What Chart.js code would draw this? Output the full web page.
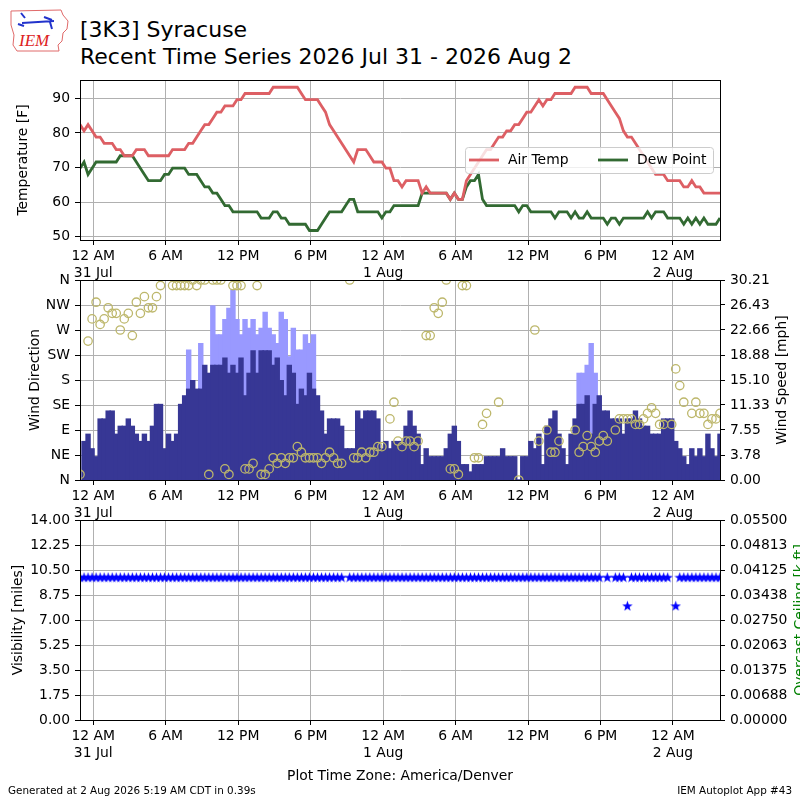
<!DOCTYPE html>
<html>
<head>
<meta charset="utf-8">
<script src="https://cdn.jsdelivr.net/npm/chart.js@4.4.0/dist/chart.umd.min.js"></script>
<style>
  body { margin:0; background:#fff; }
  #wrap { position:relative; width:800px; height:800px; overflow:hidden; background:#fff; font-family:'DejaVu Sans', sans-serif; color:#000; }
  canvas { position:absolute; left:0; }
  .txt { position:absolute; white-space:nowrap; line-height:20px; }
  .big { font-size:22px; line-height:24px; }
  .rot { position:absolute; white-space:nowrap; font-size:13.9px; line-height:16px; transform:translate(-50%,-50%) rotate(-90deg); }
</style>
</head>
<body>
<div id="wrap">
  <svg style="position:absolute;left:4px;top:3px" width="72" height="52" viewBox="0 0 72 52">
    <path d="M7 8 L57 7 L59 12 L64 18 L63 26 L59 30 L58 38 L54 42 L55 48 L13 48 L9 42 L10 32 L7 22 Z" fill="none" stroke="#e06a6a" stroke-width="1"/>
    <path d="M17 10 L21 15 M18 20 L50 18 M40 14 L48 17 M46 19 L48 26 M14 21 L20 23" stroke="#2233cc" stroke-width="2" fill="none"/>
    <text x="15" y="43" font-family="Liberation Serif" font-style="italic" font-size="17" fill="#dd2222">IEM</text>
  </svg>
  <div class="txt big" style="left:80px;top:18px">[3K3] Syracuse</div>
  <div class="txt big" style="left:80px;top:45px">Recent Time Series 2026 Jul 31 - 2026 Aug 2</div>

  <canvas id="cTemp" width="800" height="220" style="top:65px"></canvas>
  <canvas id="cWind" width="800" height="260" style="top:265px"></canvas>
  <canvas id="cVis" width="800" height="265" style="top:505px"></canvas>

  <div class="rot" style="left:22px;top:160px">Temperature [F]</div>
  <div class="rot" style="left:34px;top:380px">Wind Direction</div>
  <div class="rot" style="left:781px;top:380px">Wind Speed [mph]</div>
  <div class="rot" style="left:17px;top:620px">Visibility [miles]</div>
  <div class="rot" style="left:799px;top:620px;color:#008000">Overcast Ceiling [k ft]</div>

  <div class="txt" style="left:0;width:800px;text-align:center;top:765px;font-size:13.9px">Plot Time Zone: America/Denver</div>
  <div class="txt" style="left:8px;top:780px;font-size:10.4px">Generated at 2 Aug 2026 5:19 AM CDT in 0.39s</div>
  <div class="txt" style="right:8px;top:780px;font-size:10.4px">IEM Autoplot App #43</div>
</div>
<script>
// time axis, hours after 12 AM 31 Jul (America/Denver), one ob every 20 minutes
var firstHour = -1.1;
var xMin = -1.1;
var xMax = 51.9;
var tickHours = [0, 6, 12, 18, 24, 30, 36, 42, 48];
var tickLabels = [["12 AM", "31 Jul"], "6 AM", "12 PM", "6 PM", ["12 AM", "1 Aug"], "6 AM", "12 PM", "6 PM", ["12 AM", "2 Aug"]];

var airTemp = [
  82.4, 80.6, 82.4, 80.6, 78.8, 78.8, 77, 77, 77, 75.2, 75.2, 73.4, 73.4, 73.4, 75.2, 75.2, 75.2, 73.4, 73.4, 73.4,
  73.4, 73.4, 73.4, 75.2, 75.2, 75.2, 75.2, 77, 77, 78.8, 80.6, 82.4, 82.4, 84.2, 86, 86, 87.8, 87.8, 87.8, 89.6,
  89.6, 91.4, 91.4, 91.4, 91.4, 91.4, 91.4, 91.4, 93.2, 93.2, 93.2, 93.2, 93.2, 93.2, 93.2, 91.4, 89.6, 89.6, 89.6, 89.6,
  87.8, 86, 82.4, 80.6, 78.8, 77, 75.2, 73.4, 71.6, 75.2, 75.2, 75.2, 73.4, 71.6, 71.6, 71.6, 69.8, 69.8, 66.2, 66.2,
  64.4, 66.2, 66.2, 66.2, 66.2, 62.6, 64.4, 62.6, 62.6, 62.6, 62.6, 62.6, 60.8, 62.6, 60.8, 60.8, 66.2, 68, 69.8, 71.6,
  73.4, 75.2, 75.2, 77, 78.8, 78.8, 80.6, 80.6, 82.4, 82.4, 84.2, 86, 86, 87.8, 89.6, 87.8, 89.6, 89.6, 91.4, 91.4,
  91.4, 91.4, 91.4, 93.2, 93.2, 93.2, 93.2, 91.4, 91.4, 91.4, 91.4, 89.6, 87.8, 86, 84.2, 80.6, 78.8, 78.8, 77, 75.2,
  73.4, 71.6, 69.8, 68, 68, 68, 66.2, 66.2, 66.2, 66.2, 64.4, 64.4, 66.2, 64.4, 64.4, 62.6, 62.6, 62.6, 62.6, 62.6
];
var dewPoint = [
  69.8, 71.6, 68, 69.8, 71.6, 71.6, 71.6, 71.6, 71.6, 71.6, 73.4, 73.4, 73.4, 73.4, 71.6, 69.8, 68, 66.2, 66.2, 66.2,
  66.2, 68, 68, 69.8, 69.8, 69.8, 69.8, 68, 68, 68, 66.2, 64.4, 64.4, 62.6, 62.6, 60.8, 59, 59, 57.2, 57.2,
  57.2, 57.2, 57.2, 57.2, 57.2, 55.4, 55.4, 55.4, 57.2, 57.2, 55.4, 55.4, 53.6, 53.6, 53.6, 53.6, 53.6, 51.8, 51.8, 51.8,
  53.6, 55.4, 57.2, 57.2, 57.2, 57.2, 59, 60.8, 60.8, 57.2, 57.2, 57.2, 57.2, 57.2, 57.2, 55.4, 57.2, 57.2, 59, 59,
  59, 59, 59, 59, 59, 62.6, 62.6, 62.6, 62.6, 62.6, 62.6, 62.6, 60.8, 62.6, 60.8, 60.8, 64.4, 66.2, 66.2, 68,
  60.8, 59, 59, 59, 59, 59, 59, 59, 59, 57.2, 59, 59, 57.2, 57.2, 57.2, 57.2, 57.2, 57.2, 55.4, 57.2,
  57.2, 57.2, 55.4, 57.2, 55.4, 55.4, 57.2, 55.4, 55.4, 55.4, 55.4, 53.6, 55.4, 55.4, 53.6, 55.4, 55.4, 55.4, 55.4, 55.4,
  55.4, 57.2, 55.4, 57.2, 57.2, 57.2, 55.4, 55.4, 55.4, 55.4, 53.6, 55.4, 53.6, 55.4, 53.6, 55.4, 53.6, 53.6, 53.6, 55.4
];
var windSpeed = [
  null, 5.8, 6.9, 4.7, 3.5, 9.2, 9.2, 10.4, 10.4, 6.9, 8.1, 8.1, 9.2, 8.1, 6.9, 5.8, 6.9, 5.8, 8.1, 11.4,
  11.4, 4.7, 6.9, 5.8, 6.9, 11.4, 12.7, 13.7, 15, 13.7, 13.7, 17.3, 16.1, 17.3, 17.3, 17.3, 18.4, 16.1, 17.3, 16.1,
  18.4, 12.7, 16.1, 19.5, 16.1, 19.5, 19.5, 19.5, 17.3, 18.4, 15, 12.7, 17.3, 16.1, 11.4, 13.7, 12.7, 16.1, 13.7, 12.7,
  10.4, 6.9, 9.2, 9.2, 9.2, 8.1, 4.7, 4.7, 4.7, 10.4, 9.2, 10.4, 10.4, 10.4, 9.2, 4.7, 5.8, 4.7, 5.8, 5.8,
  5.8, 8.1, 10.4, 8.1, 6.9, 2.3, 4.7, 3.5, 3.5, 3.5, 3.5, 4.7, 6.9, 8.1, 5.8, 2.3, 2.3, 1.2, 2.3, 2.3,
  2.3, 3.5, 3.5, 3.5, 3.5, 4.7, 3.5, 3.5, 3.5, 0, 3.5, 3.5, 5.8, 4.7, 6.9, 2.3, 8.1, 9.2, 10.4, 6.9,
  4.7, 2.3, 6.9, 9.2, 11.4, 11.4, 12.7, 6.9, 11.4, 12.7, 10.4, 10.4, 9.2, 9.2, 9.2, 6.9, 9.2, 9.2, 10.4, 9.2,
  8.1, 8.1, 6.9, 6.9, 6.9, 9.2, 9.2, 9.2, 5.8, 4.7, 3.5, 2.3, 4.7, 3.5, 4.7, 3.5, 6.9, 4.7, 3.5, 6.9
];
var windGust = [
  null, null, null, null, null, null, null, null, null, null, null, null, null, null, null, null, null, null, null, null,
  null, null, null, null, null, null, null, 19.6, null, null, 20.6, null, null, 26.3, 21.9, 21.9, 24.2, 25.9, 28.7, 24.2,
  21.9, 24.2, 22.9, 24.2, 21.9, 22.9, 25.3, 22.9, 21.9, 20.6, 25.3, 24.2, 18.6, 22.9, 19.6, 19.6, 21.9, 20.6, 21.9, null,
  null, null, null, null, null, null, null, null, null, null, null, null, null, null, null, null, null, null, null, null,
  null, null, null, null, null, null, null, null, null, null, null, null, null, null, null, null, null, null, null, null,
  null, null, null, null, null, null, null, null, null, null, null, null, null, null, null, null, null, null, null, null,
  null, null, null, null, 16.1, 16.1, 17.3, 20.6, 16.1, null, null, null, null, null, null, null, null, null, null, null,
  null, null, null, null, null, null, null, null, null, null, null, null, null, null, null, null, null, null, null, null
];
var windDir = [
  10, null, 250, 290, 320, 280, 290, 310, 300, 300, 270, 290, 300, 260, 320, 300, 330, 310, 310, 330,
  350, null, null, 350, 350, 350, 350, 350, 360, 350, 360, 360, 10, 360, 360, 360, 20, 10, 350, 350,
  350, 20, 20, 30, 350, 10, 10, 20, 40, 30, 40, 30, 40, 40, 60, 50, 40, 40, 40, 40,
  30, 40, 50, 40, 30, 30, null, 360, 40, 40, 50, 40, 50, 50, 60, 60, null, 110, 140, 70,
  60, 70, 70, 60, 70, null, 260, 260, 310, 300, 320, 360, 20, 20, 10, 350, 350, null, 40, 40,
  100, 120, null, null, 140, null, null, null, null, 0, null, null, null, 270, 70, null, 90, 50, 50, 70,
  null, null, null, 90, 50, 60, 80, 60, 50, 70, 80, 70, null, 90, 110, 110, 110, 110, 100, 100,
  110, 120, 130, 120, 100, 100, null, 100, 200, 170, 140, null, 120, 140, 120, 120, 100, 110, 110, 120
];
var visibility = [
  10, 10, 10, 10, 10, 10, 10, 10, 10, 10, 10, 10, 10, 10, 10, 10, 10, 10, 10, 10,
  10, 10, 10, 10, 10, 10, 10, 10, 10, 10, 10, 10, 10, 10, 10, 10, 10, 10, 10, 10,
  10, 10, 10, 10, 10, 10, 10, 10, 10, 10, 10, 10, 10, 10, 10, 10, 10, 10, 10, 10,
  10, 10, 10, 10, 10, 10, null, 10, 10, 10, 10, 10, 10, 10, 10, 10, 10, 10, 10, 10,
  10, 10, 10, 10, 10, 10, 10, 10, 10, 10, 10, 10, 10, 10, 10, 10, 10, 10, 10, 10,
  10, 10, 10, 10, 10, 10, 10, 10, 10, 10, 10, 10, 10, 10, 10, 10, 10, 10, 10, 10,
  10, 10, 10, 10, 10, 10, 10, 10, 10, 10, null, 10, null, 10, 10, 10, 8, 10, 10, 10,
  10, 10, 10, 10, 10, 10, 10, null, 8, 10, 10, 10, 10, 10, 10, 10, 10, 10, 10, 10
];

var tempTicks = [50, 60, 70, 80, 90];
var dirTicks = [0, 45, 90, 135, 180, 225, 270, 315, 360];
var dirLabels = ["N", "NE", "E", "SE", "S", "SW", "W", "NW", "N"];
var spdTicks = [0, 3.776, 7.553, 11.329, 15.105, 18.881, 22.658, 26.434, 30.21];
var spdLabels = ["0.00", "3.78", "7.55", "11.33", "15.10", "18.88", "22.66", "26.43", "30.21"];
var visTicks = [0, 1.75, 3.5, 5.25, 7, 8.75, 10.5, 12.25, 14];
var visLabels = ["0.00", "1.75", "3.50", "5.25", "7.00", "8.75", "10.50", "12.25", "14.00"];
var ceilTicks = [0, 0.006875, 0.01375, 0.020625, 0.0275, 0.034375, 0.04125, 0.048125, 0.055];
var ceilLabels = ["0.00000", "0.00688", "0.01375", "0.02063", "0.02750", "0.03438", "0.04125", "0.04813", "0.05500"];

var obsHours = airTemp.map(function (_v, i) { return firstHour + i / 3; });
function pts(vals) {
    return vals.map(function (v, i) { return { x: obsHours[i], y: v }; });
}

Chart.defaults.font.family = "'DejaVu Sans', sans-serif";
Chart.defaults.font.size = 13.9;
Chart.defaults.color = "#000";

var gridColor = "#b0b0b0";

function xAxis(h) {
    return {
        type: "linear", min: xMin, max: xMax, offset: false,
        afterBuildTicks: function (s) { s.ticks = tickHours.map(function (v) { return { value: v }; }); },
        afterFit: function (s) { s.height = h; },
        ticks: { callback: function (v, k) { return tickLabels[k]; }, autoSkip: false, maxRotation: 0, padding: 3 },
        grid: { color: gridColor, tickColor: "#000", tickLength: 5, offset: false },
        border: { color: "#000" }
    };
}
function yAxis(pos, min, max, ticks, labels, onArea) {
    return {
        type: "linear", position: pos, min: min, max: max,
        afterBuildTicks: function (s) { s.ticks = ticks.map(function (v) { return { value: v }; }); },
        afterFit: function (s) { s.width = 80; },
        ticks: { callback: function (v, k) { return labels[k]; }, autoSkip: false, padding: 5 },
        grid: { color: gridColor, tickColor: "#000", tickLength: 5, drawOnChartArea: onArea },
        border: { color: "#000" }
    };
}

// black box round every panel
var frame = {
    id: "frame",
    afterDraw: function (chart) {
        var a = chart.chartArea, ctx = chart.ctx;
        ctx.save();
        ctx.strokeStyle = "#000";
        ctx.lineWidth = 1;
        ctx.strokeRect(Math.round(a.left) + 0.5, Math.round(a.top) + 0.5, Math.round(a.right - a.left), Math.round(a.bottom - a.top));
        ctx.restore();
    }
};

// legend box inside the temperature panel
var tempLegend = {
    id: "tempLegend",
    afterDatasetsDraw: function (chart) {
        var a = chart.chartArea, ctx = chart.ctx;
        var x = a.right - 255, y = a.top + 67, w = 248, h = 26;
        ctx.save();
        ctx.fillStyle = "rgba(255,255,255,0.8)";
        ctx.strokeStyle = "#cccccc";
        ctx.lineWidth = 1;
        ctx.beginPath();
        ctx.roundRect(x + 0.5, y + 0.5, w, h, 3);
        ctx.fill();
        ctx.stroke();
        ctx.font = "13.9px 'DejaVu Sans'";
        ctx.textBaseline = "middle";
        chart.data.datasets.forEach(function (ds, k) {
            var lx = x + 4 + k * 129;
            ctx.strokeStyle = ds.borderColor;
            ctx.lineWidth = 2.8;
            ctx.beginPath();
            ctx.moveTo(lx, y + 13);
            ctx.lineTo(lx + 30, y + 13);
            ctx.stroke();
            ctx.fillStyle = "#000";
            ctx.fillText(ds.label, lx + 39, y + 13.5);
        });
        ctx.restore();
    }
};

function makeStar(size, color) {
    var c = document.createElement("canvas");
    c.width = size; c.height = size;
    var g = c.getContext("2d");
    var R = size / 2, r = R * 0.4;
    g.beginPath();
    for (var k = 0; k < 10; k++) {
        var ang = -Math.PI / 2 + k * Math.PI / 5;
        var rad = (k % 2) ? r : R;
        g.lineTo(R + rad * Math.cos(ang), R + 0.6 + rad * Math.sin(ang));
    }
    g.closePath();
    g.fillStyle = color;
    g.fill();
    return c;
}

var common = {
    responsive: false, animation: false, events: [],
    plugins: { legend: { display: false }, tooltip: { enabled: false } }
};

// Temperature panel
new Chart(document.getElementById("cTemp"), {
    type: "line",
    data: {
        datasets: [
            { label: "Air Temp", data: pts(airTemp), borderColor: "#dd5f64", borderWidth: 2.8, pointRadius: 0, tension: 0 },
            { label: "Dew Point", data: pts(dewPoint), borderColor: "#326a32", borderWidth: 2.8, pointRadius: 0, tension: 0 }
        ]
    },
    options: Object.assign({}, common, {
        layout: { padding: { top: 15, right: 80, left: 0, bottom: 0 } },
        scales: {
            x: xAxis(45),
            y: yAxis("left", 49.05, 95.3, tempTicks, tempTicks.map(String), true)
        }
    }),
    plugins: [frame, tempLegend]
});

// Wind panel
new Chart(document.getElementById("cWind"), {
    type: "bar",
    data: {
        datasets: [
            { type: "scatter", label: "Wind Direction", data: pts(windDir), yAxisID: "yDir", order: 0,
              pointStyle: "circle", pointRadius: 4.2, borderWidth: 1.3, borderColor: "#bdb76b",
              backgroundColor: "rgba(0,0,0,0)", clip: 0 },
            { type: "bar", label: "Wind Speed", data: pts(windSpeed), yAxisID: "ySpd", order: 1,
              backgroundColor: "#373795", grouped: false, categoryPercentage: 1, barPercentage: 1,
              borderWidth: 0, inflateAmount: 0.7 },
            { type: "bar", label: "Wind Gust", data: pts(windGust), yAxisID: "ySpd", order: 2,
              backgroundColor: "#9999ff", grouped: false, categoryPercentage: 1, barPercentage: 1,
              borderWidth: 0, inflateAmount: 0.7 }
        ]
    },
    options: Object.assign({}, common, {
        layout: { padding: { top: 15, right: 0, left: 0, bottom: 0 } },
        scales: {
            x: xAxis(45),
            yDir: yAxis("left", 0, 360, dirTicks, dirLabels, true),
            ySpd: yAxis("right", 0, 30.21, spdTicks, spdLabels, false)
        }
    }),
    plugins: [frame]
});

// Visibility panel
var star = makeStar(11, "#0000ff");
new Chart(document.getElementById("cVis"), {
    type: "scatter",
    data: {
        datasets: [
            { label: "Visibility", data: pts(visibility), yAxisID: "yVis", pointStyle: star, pointRadius: 5, clip: 0 }
        ]
    },
    options: Object.assign({}, common, {
        layout: { padding: { top: 15, right: 0, left: 0, bottom: 0 } },
        scales: {
            x: xAxis(50),
            yVis: yAxis("left", 0, 14, visTicks, visLabels, true),
            yCeil: yAxis("right", 0, 0.055, ceilTicks, ceilLabels, false)
        }
    }),
    plugins: [frame]
});
</script>
</body>
</html>
